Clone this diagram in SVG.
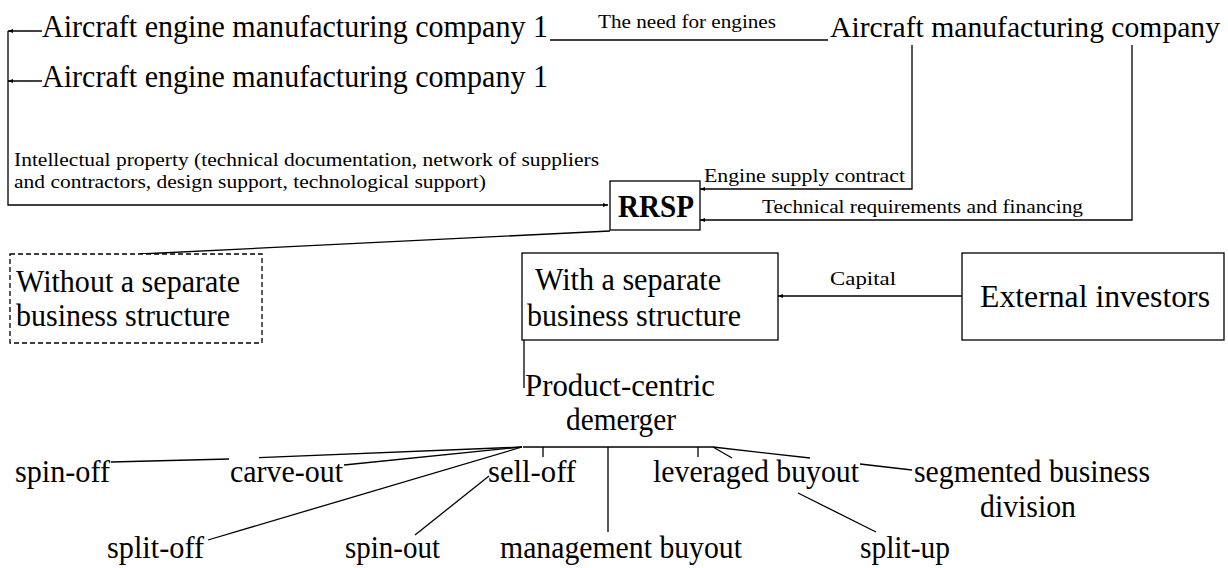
<svg xmlns="http://www.w3.org/2000/svg" width="1228" height="568" viewBox="0 0 1228 568">
<style>
.big{font-family:"Liberation Serif","Times New Roman",serif;font-size:32px;fill:#000}
.sm{font-family:"Liberation Serif","Times New Roman",serif;font-size:19px;fill:#000}
.box{fill:#fff;stroke:#000;stroke-width:1.3}
.dash{fill:#fff;stroke:#000;stroke-width:1.3;stroke-dasharray:5,3}
.ln{fill:none;stroke:#000;stroke-width:1.3}
</style>
<defs>
<marker id="ar" markerWidth="5" markerHeight="4" refX="5" refY="2" orient="auto" markerUnits="userSpaceOnUse">
<path d="M0,0 L5,2 L0,4 z" fill="#000"/>
</marker>
</defs>
<g id="connectors">
<path class="ln" d="M42,31 H8" marker-end="url(#ar)"/>
<path class="ln" d="M42,81 H8" marker-end="url(#ar)"/>
<path class="ln" d="M8,31 V205 H608" marker-end="url(#ar)"/>
<path class="ln" d="M550,40 H828"/>
<path class="ln" d="M912,45 V189 H700" marker-end="url(#ar)"/>
<path class="ln" d="M1132,45 V220 H700" marker-end="url(#ar)"/>
<path class="ln" d="M610,231 L140,254"/>
<path class="ln" d="M962,296 H778" marker-end="url(#ar)"/>
<path class="ln" d="M524,340 V388"/>
<path class="ln" d="M523,447 H713"/>
<path class="ln" d="M543,447 V457"/>
<path class="ln" d="M608,447 V532"/>
<path class="ln" d="M698,447 V457"/>
<path class="ln" d="M713,447 L732,458"/>
<path class="ln" d="M713,447 L810,458"/>
<path class="ln" d="M860,464 L912,470"/>
<path class="ln" d="M798,493 L876,532"/>
<path class="ln" d="M111,462 L229,459"/>
<path class="ln" d="M259,457.7 L522,447"/>
<path class="ln" d="M344,465 L522,447"/>
<path class="ln" d="M208,540 L522,447"/>
<path class="ln" d="M415,535 L489,476"/>
</g>
<g id="engine1"><text class="big" x="42" y="37" textLength="506" lengthAdjust="spacingAndGlyphs">Aircraft engine manufacturing company 1</text></g>
<g id="engine2"><text class="big" x="42" y="87" textLength="506" lengthAdjust="spacingAndGlyphs">Aircraft engine manufacturing company 1</text></g>
<g id="need-label"><text class="sm" x="598" y="28" textLength="178" lengthAdjust="spacingAndGlyphs">The need for engines</text></g>
<g id="aircraft"><text class="big" x="830" y="37" font-size="29.5" style="font-size:29.5px" textLength="390" lengthAdjust="spacingAndGlyphs">Aircraft manufacturing company</text></g>
<g id="ip-label">
<text class="sm" x="14" y="166" textLength="585" lengthAdjust="spacingAndGlyphs">Intellectual property (technical documentation, network of suppliers</text>
<text class="sm" x="14" y="188" textLength="472" lengthAdjust="spacingAndGlyphs">and contractors, design support, technological support)</text>
</g>
<g id="contract-label"><text class="sm" x="704" y="182" textLength="201" lengthAdjust="spacingAndGlyphs">Engine supply contract</text></g>
<g id="tech-label"><text class="sm" x="762" y="213" textLength="321" lengthAdjust="spacingAndGlyphs">Technical requirements and financing</text></g>
<g id="rrsp">
<rect class="box" x="610" y="181" width="90" height="49"/>
<text class="big" x="618" y="217" textLength="76" lengthAdjust="spacingAndGlyphs" font-weight="bold">RRSP</text>
</g>
<g id="without">
<rect class="dash" x="10" y="254" width="252" height="89"/>
<text class="big" x="16" y="292" textLength="224" lengthAdjust="spacingAndGlyphs">Without a separate</text>
<text class="big" x="16" y="326" textLength="214" lengthAdjust="spacingAndGlyphs">business structure</text>
</g>
<g id="with">
<rect class="box" x="522" y="253" width="256" height="87"/>
<text class="big" x="535" y="290" textLength="186" lengthAdjust="spacingAndGlyphs">With a separate</text>
<text class="big" x="527" y="326" textLength="214" lengthAdjust="spacingAndGlyphs">business structure</text>
</g>
<g id="capital-label"><text class="sm" x="830" y="285" textLength="66" lengthAdjust="spacingAndGlyphs">Capital</text></g>
<g id="investors">
<rect class="box" x="962" y="253" width="262" height="87"/>
<text class="big" x="980" y="307" textLength="230" lengthAdjust="spacingAndGlyphs">External investors</text>
</g>
<g id="demerger">
<text class="big" x="525" y="396" textLength="190" lengthAdjust="spacingAndGlyphs">Product-centric</text>
<text class="big" x="566" y="430" textLength="110" lengthAdjust="spacingAndGlyphs">demerger</text>
</g>
<g id="spin-off"><text class="big" x="15" y="482" textLength="95" lengthAdjust="spacingAndGlyphs">spin-off</text></g>
<g id="carve-out"><text class="big" x="230" y="482" textLength="113" lengthAdjust="spacingAndGlyphs">carve-out</text></g>
<g id="sell-off"><text class="big" x="488" y="482" textLength="88" lengthAdjust="spacingAndGlyphs">sell-off</text></g>
<g id="lbo"><text class="big" x="653" y="482" textLength="206" lengthAdjust="spacingAndGlyphs">leveraged buyout</text></g>
<g id="segmented">
<text class="big" x="914" y="482" textLength="236" lengthAdjust="spacingAndGlyphs">segmented business</text>
<text class="big" x="980" y="517" textLength="96" lengthAdjust="spacingAndGlyphs">division</text>
</g>
<g id="split-off"><text class="big" x="107" y="558" textLength="97" lengthAdjust="spacingAndGlyphs">split-off</text></g>
<g id="spin-out"><text class="big" x="345" y="558" textLength="95" lengthAdjust="spacingAndGlyphs">spin-out</text></g>
<g id="mbo"><text class="big" x="500" y="558" textLength="242" lengthAdjust="spacingAndGlyphs">management buyout</text></g>
<g id="split-up"><text class="big" x="860" y="558" textLength="90" lengthAdjust="spacingAndGlyphs">split-up</text></g>
</svg>
